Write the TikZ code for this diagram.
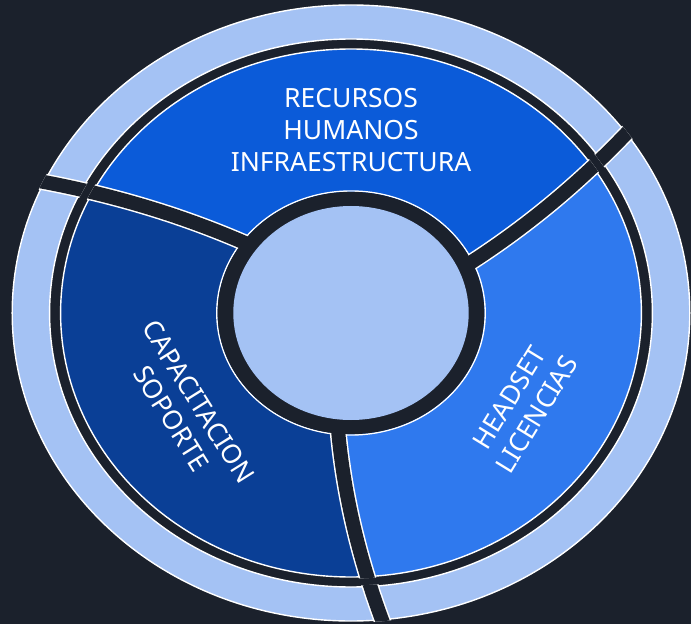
\documentclass[tikz,border=0pt]{standalone}
\usepackage{xcolor}
\usepackage{tikz}
\usepackage{fontspec}
\setmainfont{Noto Sans}

\definecolor{bgdark}{HTML}{1B212C}
\definecolor{ringlight}{HTML}{A4C2F4}
\definecolor{topblue}{HTML}{0B5BD9}
\definecolor{leftblue}{HTML}{0A3F96}
\definecolor{rightblue}{HTML}{2F79EE}

\begin{document}
\begin{tikzpicture}[x=1pt, y=1pt,
     every node/.style={text=white, align=center, inner sep=0pt, font=\fontsize{26.5}{32}\selectfont},
     edge/.style={draw=white, line width=1.4pt},
     spokeedge/.style={white, line width=17pt},
     spokecore/.style={bgdark, line width=14pt}]
     \fill[bgdark] (-351,-311) rectangle (340,313);
     \useasboundingbox (-351,-311) rectangle (340,313);

     \begin{scope}[xscale=1.1]
          \fill[ringlight, even odd rule] (0,0) circle (308) (0,0) circle (274);
          \draw[edge] (0,0) circle (308) (0,0) circle (274);

          \fill[rightblue] (0,0) circle (264);
          \begin{scope}
               \clip (0,0) -- (24.4:115) .. controls (28.5:187) and (32.6:258) .. (36.6:330) -- (90:600) -- (155.8:330) .. controls (151.8:258) and (147.7:187) .. (143.6:115) -- cycle;
               \fill[topblue] (0,0) circle (264);
          \end{scope}
          \begin{scope}
               \clip (0,0) -- (143.6:115) .. controls (147.7:187) and (151.8:258) .. (155.8:330) -- (210:600) -- (276.2:330) .. controls (272.2:258) and (268.1:187) .. (264:115) -- cycle;
               \fill[leftblue] (0,0) circle (264);
          \end{scope}
          \draw[edge] (0,0) circle (264) (0,0) circle (122);

          \begin{scope}[even odd rule]
               \clip (0,0) circle (265.5) (0,0) circle (120.5);
               \foreach \a in {24.8, 144, 264.4} {
                    \draw[spokeedge] ({\a-0.4}:115) .. controls ({\a+3.7}:187) and ({\a+7.8}:258) .. ({\a+11.8}:330);
                    \draw[spokecore] ({\a-0.4}:115) .. controls ({\a+3.7}:187) and ({\a+7.8}:258) .. ({\a+11.8}:330);
               }
          \end{scope}
          \begin{scope}[even odd rule]
               \clip (0,0) circle (309.5) (0,0) circle (272.5);
               \foreach \a in {24.8, 144, 264.4} {
                    \draw[spokeedge] ({\a-0.4}:115) .. controls ({\a+3.7}:187) and ({\a+7.8}:258) .. ({\a+11.8}:330);
                    \draw[spokecore] ({\a-0.4}:115) .. controls ({\a+3.7}:187) and ({\a+7.8}:258) .. ({\a+11.8}:330);
               }
          \end{scope}

          \fill[bgdark] (0,0) circle (121.2);
          \fill[ringlight] (0,0) circle (107);
     \end{scope}

     \node (T) at (0,182.5) {RECURSOS\\HUMANOS\\INFRAESTRUCTURA};
     \node[rotate=-58] (L) at (-166,-97) {CAPACITACION\\SOPORTE};
     \node[rotate=58.5] (R) at (172,-93) {HEADSET\\LICENCIAS};
\end{tikzpicture}
\end{document}
